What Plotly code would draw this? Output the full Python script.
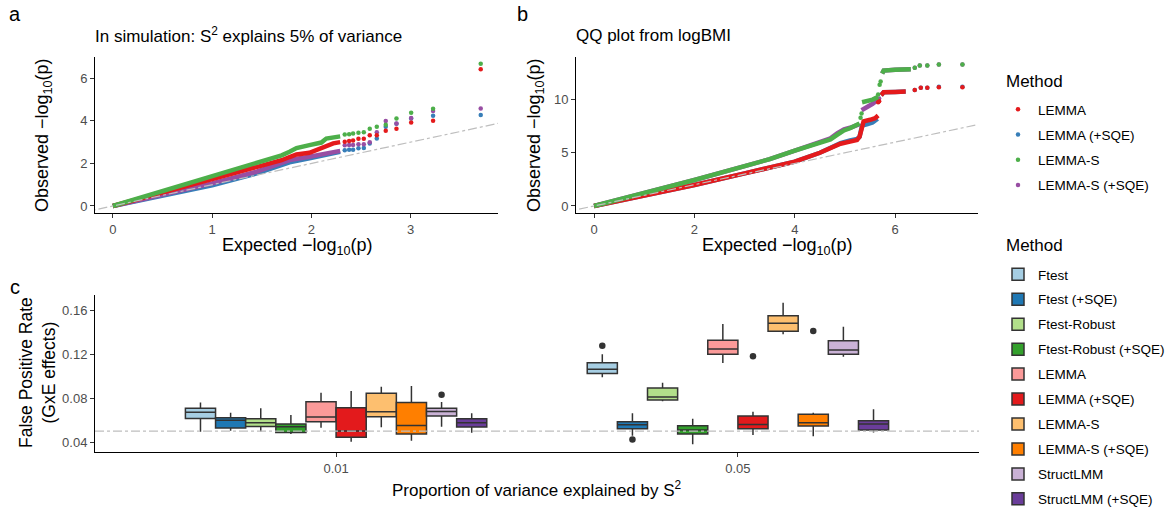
import plotly.graph_objects as go

W, H = 1169, 507
FONT = "Liberation Sans, Arial, sans-serif"

# ---------------- Panel a / b data (QQ plots) ----------------
qq_methods = ["LEMMA", "LEMMA (+SQE)", "LEMMA-S", "LEMMA-S (+SQE)"]
qq_colors = ["#E41A1C", "#377EB8", "#4DAF4A", "#984EA3"]

# Panel a: dense body (read along the band) and sparse tail points
a_body_x = {
    "LEMMA": [0, 0.5, 1.0, 1.45, 1.7, 1.78, 1.85, 1.98, 2.12, 2.22, 2.29],
    "LEMMA (+SQE)": [0, 0.5, 1.0, 1.45, 1.78, 1.98, 2.19, 2.29],
    "LEMMA-S": [0, 0.5, 1.0, 1.45, 1.6, 1.7, 1.78, 1.85, 1.98, 2.1, 2.15, 2.29],
    "LEMMA-S (+SQE)": [0, 0.5, 1.0, 1.45, 1.78, 1.98, 2.19, 2.29],
}
a_body_y = {
    "LEMMA": [0, 0.62, 1.24, 1.84, 2.15, 2.3, 2.42, 2.5, 2.78, 2.94, 3.0],
    "LEMMA (+SQE)": [0, 0.48, 0.97, 1.53, 2.05, 2.24, 2.42, 2.55],
    "LEMMA-S": [0, 0.71, 1.42, 2.07, 2.23, 2.38, 2.55, 2.72, 2.86, 2.98, 3.17, 3.27],
    "LEMMA-S (+SQE)": [0, 0.53, 1.06, 1.61, 2.16, 2.31, 2.47, 2.59],
}
a_tail_x = [2.336, 2.38, 2.42, 2.474, 2.528, 2.588, 2.659, 2.749, 2.857, 3.005, 3.226, 3.706]
a_tail_y = {
    "LEMMA": [3.02, 3.05, 3.08, 3.16, 3.16, 3.32, 3.32, 3.54, 3.63, 3.92, 4.0, 6.43],
    "LEMMA (+SQE)": [2.62, 2.64, 2.64, 2.71, 2.72, 2.93, 3.17, 3.72, 3.86, 4.11, 4.24, 4.27],
    "LEMMA-S": [3.36, 3.37, 3.40, 3.44, 3.46, 3.63, 3.72, 3.82, 4.11, 4.38, 4.57, 6.68],
    "LEMMA-S (+SQE)": [2.85, 2.87, 2.87, 2.9, 2.9, 3.0, 3.47, 3.99, 3.88, 4.13, 4.46, 4.58],
}

# Panel b (None separates the dense segments)
b_body_x = {
    "LEMMA": [0, 1, 2, 3, 3.5, 4.0, 4.5, 4.7, 4.91, 5.1, 5.24, 5.29, 5.31, 5.34, 5.37, 5.5, 5.6, 5.66,
              None, 5.72, 5.77, 6.0, 6.21],
    "LEMMA (+SQE)": [0, 1, 2, 3, 3.5, 4.0, 4.5, 4.7, 4.91, 5.1, 5.24, 5.29, 5.31, 5.34, 5.45, 5.55, 5.65,
                     None, 5.72, 5.77, 6.0, 6.21],
    "LEMMA-S": [0, 1, 2, 3, 3.5, 4.0, 4.5, 4.71, 4.85, 4.98, 5.1, 5.24, 5.29,
                None, 5.34, 5.45, 5.55, 5.66, None, 5.74, 5.77, 6.0, 6.31],
    "LEMMA-S (+SQE)": [0, 1, 2, 3, 3.5, 4.0, 4.5, 4.71, 4.85, 4.98, 5.1, 5.24, 5.29,
                       None, 5.33, 5.45, 5.55, 5.66, None, 5.74, 5.77, 6.0, 6.31],
}
b_body_y = {
    "LEMMA": [0, 0.98, 1.97, 3.06, 3.6, 4.16, 5.0, 5.4, 5.85, 6.05, 6.2, 6.5, 7.0, 7.6, 7.95, 8.1, 8.25, 8.5,
              None, 10.4, 10.68, 10.72, 10.75],
    "LEMMA (+SQE)": [0, 0.98, 1.97, 3.06, 3.6, 4.16, 5.0, 5.4, 5.9, 6.15, 6.3, 6.5, 7.0, 7.55, 7.7, 7.85, 8.2,
                     None, 10.4, 10.68, 10.72, 10.75],
    "LEMMA-S": [0, 1.2, 2.44, 3.75, 4.4, 5.2, 5.9, 6.25, 6.7, 7.1, 7.3, 7.55, 7.75,
                None, 9.75, 9.85, 10.0, 10.25, None, 12.45, 12.72, 12.8, 12.85],
    "LEMMA-S (+SQE)": [0, 1.2, 2.44, 3.75, 4.4, 5.2, 5.95, 6.35, 6.85, 7.2, 7.35, 7.55, 7.7,
                       None, 9.0, 9.3, 9.6, 10.0, None, 12.45, 12.72, 12.8, 12.85],
}
b_tail_x = {
    "LEMMA": [5.66, 5.68, 6.39, 6.51, 6.64, 6.87, 7.34],
    "LEMMA (+SQE)": [6.39, 6.51, 6.64, 6.87, 7.34],
    "LEMMA-S": [5.31, 5.33, 5.66, 5.69, 5.71, 6.39, 6.49, 6.64, 6.87, 7.34],
    "LEMMA-S (+SQE)": [5.68, 6.39, 6.49, 6.64, 6.87, 7.34],
}
b_tail_y = {
    "LEMMA": [9.75, 9.85, 10.9, 11.1, 11.1, 11.15, 11.15],
    "LEMMA (+SQE)": [10.9, 11.1, 11.1, 11.2, 11.2],
    "LEMMA-S": [8.3, 8.7, 10.47, 11.4, 11.7, 13.0, 13.2, 13.2, 13.3, 13.3],
    "LEMMA-S (+SQE)": [10.1, 13.0, 13.2, 13.2, 13.3, 13.3],
}

# ---------------- Panel c data (boxplots) ----------------
box_methods = ["Ftest", "Ftest (+SQE)", "Ftest-Robust", "Ftest-Robust (+SQE)", "LEMMA",
               "LEMMA (+SQE)", "LEMMA-S", "LEMMA-S (+SQE)", "StructLMM", "StructLMM (+SQE)"]
box_colors = ["#A6CEE3", "#1F78B4", "#B2DF8A", "#33A02C", "#FB9A99",
              "#E31A1C", "#FDBF6F", "#FF7F00", "#CAB2D6", "#6A3D9A"]
categories = ["0.01", "0.05"]

low_001 = [0.0494, 0.0504, 0.0497, 0.0473, 0.0531, 0.0403, 0.0534, 0.0412, 0.0540, 0.0485]
q1_001 = [0.0616, 0.0528, 0.0543, 0.0488, 0.0586, 0.0443, 0.0631, 0.0473, 0.0638, 0.0537]
med_001 = [0.0671, 0.0600, 0.0577, 0.0540, 0.0628, 0.0500, 0.0677, 0.0552, 0.0680, 0.0577]
q3_001 = [0.0708, 0.0622, 0.0613, 0.0564, 0.0769, 0.0714, 0.0845, 0.0762, 0.0708, 0.0613]
up_001 = [0.0762, 0.0668, 0.0708, 0.0647, 0.0851, 0.0866, 0.0906, 0.0912, 0.0766, 0.0662]
out_001 = [[None], [None], [None], [None], [None], [None], [None], [None], [0.0833], [None]]

low_005 = [0.0991, 0.0458, 0.0772, 0.0379, 0.1122, 0.0464, 0.1384, 0.0452, 0.1180, 0.0488]
q1_005 = [0.1027, 0.0522, 0.0784, 0.0473, 0.1201, 0.0522, 0.1411, 0.0546, 0.1201, 0.0510]
med_005 = [0.1064, 0.0558, 0.0811, 0.0510, 0.1250, 0.0561, 0.1484, 0.0577, 0.1241, 0.0564]
q3_005 = [0.1125, 0.0586, 0.0893, 0.0549, 0.1329, 0.0638, 0.1554, 0.0653, 0.1326, 0.0595]
up_005 = [0.1201, 0.0662, 0.0942, 0.0613, 0.1478, 0.0677, 0.1673, 0.0668, 0.1454, 0.0699]
out_005 = [[0.1280], [0.0424], [None], [None], [None], [0.1183], [None], [0.1414], [None], [None]]

fpr_null = 0.05

# ---------------- Build figure ----------------
fig = go.Figure()

draw_order = ["LEMMA (+SQE)", "LEMMA-S (+SQE)", "LEMMA", "LEMMA-S"]
col = dict(zip(qq_methods, qq_colors))
for m in draw_order:
    c = col[m]
    rank = qq_methods.index(m)
    fig.add_trace(go.Scatter(x=a_body_x[m], y=a_body_y[m], mode="lines",
                             line=dict(color=c, width=4.5), showlegend=False,
                             xaxis="x", yaxis="y", hoverinfo="skip"))
    fig.add_trace(go.Scatter(x=a_tail_x, y=a_tail_y[m], mode="markers",
                             marker=dict(color=c, size=4.5), name=m,
                             legend="legend", legendgroup=m, legendrank=rank + 1,
                             xaxis="x", yaxis="y"))
    fig.add_trace(go.Scatter(x=b_body_x[m], y=b_body_y[m], mode="lines",
                             line=dict(color=c, width=4.5), showlegend=False,
                             xaxis="x2", yaxis="y2", hoverinfo="skip"))
    fig.add_trace(go.Scatter(x=b_tail_x[m], y=b_tail_y[m], mode="markers",
                             marker=dict(color=c, size=4.5), name=m, showlegend=False,
                             xaxis="x2", yaxis="y2"))

for i, m in enumerate(box_methods):
    fig.add_trace(go.Box(
        x=categories,
        q1=[q1_001[i], q1_005[i]],
        median=[med_001[i], med_005[i]],
        q3=[q3_001[i], q3_005[i]],
        lowerfence=[low_001[i], low_005[i]],
        upperfence=[up_001[i], up_005[i]],
        y=[out_001[i], out_005[i]],
        boxpoints="outliers", jitter=0, pointpos=0,
        name=m, fillcolor=box_colors[i],
        line=dict(color="#333333", width=1.5),
        marker=dict(color="#333333", size=6.5),
        whiskerwidth=0,
        legend="legend2", legendgroup="b_" + m, legendrank=i + 1,
        xaxis="x3", yaxis="y3",
    ))

axis_common = dict(showline=True, linecolor="black", linewidth=1, ticks="outside",
                   ticklen=4, tickcolor="#333333", tickwidth=1,
                   tickfont=dict(family=FONT, size=13, color="#4D4D4D"),
                   showgrid=False, zeroline=False)

fig.update_layout(
    width=W, height=H, margin=dict(l=0, r=0, t=0, b=0, autoexpand=False),
    paper_bgcolor="white", plot_bgcolor="white",
    font=dict(family=FONT, color="black"),
    boxmode="group", boxgap=0.25, boxgroupgap=0,
    xaxis=dict(domain=[95 / W, 498 / W], range=[-0.18, 3.88], tickvals=[0, 1, 2, 3],
               anchor="y", **axis_common),
    yaxis=dict(domain=[1 - 213 / H, 1 - 57 / H], range=[-0.33, 7.0], tickvals=[0, 2, 4, 6],
               anchor="x", **axis_common),
    xaxis2=dict(domain=[576 / W, 978 / W], range=[-0.36, 7.65], tickvals=[0, 2, 4, 6],
                anchor="y2", **axis_common),
    yaxis2=dict(domain=[1 - 213 / H, 1 - 57 / H], range=[-0.66, 14.0], tickvals=[0, 5, 10],
                anchor="x2", **axis_common),
    xaxis3=dict(domain=[95 / W, 979 / W], type="category", categoryorder="array",
                categoryarray=categories, range=[-0.6, 1.6], anchor="y3", **axis_common),
    yaxis3=dict(domain=[1 - 452 / H, 1 - 295 / H], range=[0.0309, 0.1743],
                tickvals=[0.04, 0.08, 0.12, 0.16], tickformat=".2f", anchor="x3", **axis_common),
    legend=dict(x=998 / W, y=1 - 94 / H, xanchor="left", yanchor="top",
                font=dict(size=13.5), tracegroupgap=4.7, traceorder="grouped",
                bgcolor="rgba(0,0,0,0)"),
    legend2=dict(x=998 / W, y=1 - 259 / H, xanchor="left", yanchor="top",
                 font=dict(size=13.5), tracegroupgap=4.4, traceorder="grouped",
                 bgcolor="rgba(0,0,0,0)"),
)

ref = dict(color="#BEBEBE", width=1.2, dash="dashdot")
fig.add_shape(type="line", xref="x", yref="y", x0=-0.5, y0=-0.5, x1=4, y1=4, line=ref, layer="above")
fig.add_shape(type="line", xref="x2", yref="y2", x0=-1, y0=-1, x1=8, y1=8, line=ref, layer="above")
fig.add_shape(type="line", xref="x3 domain", yref="y3", x0=0, x1=1, y0=fpr_null, y1=fpr_null,
              line=ref, layer="above")


def ann(text, xp, yp, size, angle=0, xanchor="center", color="black"):
    fig.add_annotation(text=text, x=xp / W, y=1 - yp / H, xref="paper", yref="paper",
                       showarrow=False, xanchor=xanchor, yanchor="middle", textangle=angle,
                       font=dict(family=FONT, size=size, color=color))


ann("a", 15, 14, 20)
ann("b", 522, 14, 20)
ann("c", 15, 287, 20)
ann("In simulation: S<sup>2</sup> explains 5% of variance", 93, 35, 17, xanchor="left")
ann("QQ plot from logBMI", 574, 35, 17, xanchor="left")
ann("Expected −log<sub>10</sub>(p)", 297, 246, 18)
ann("Expected −log<sub>10</sub>(p)", 777, 246, 18)
ann("Observed −log<sub>10</sub>(p)", 43, 135, 18, angle=-90)
ann("Observed −log<sub>10</sub>(p)", 535, 135, 18, angle=-90)
ann("False Positive Rate<br>(GxE effects)", 37, 373, 17.5, angle=-90)
ann("Proportion of variance explained by S<sup>2</sup>", 537, 489, 17)
ann("Method", 1004, 82, 17, xanchor="left")
ann("Method", 1004, 245, 17, xanchor="left")

fig.write_html("out.html")
